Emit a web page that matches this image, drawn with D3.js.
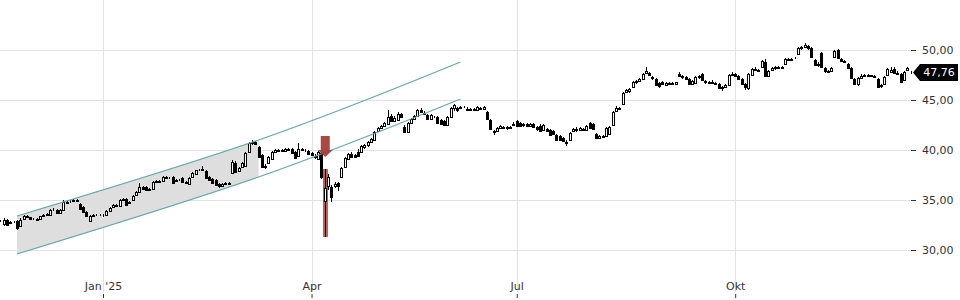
<!DOCTYPE html>
<html>
<head>
<meta charset="utf-8">
<script src="https://cdn.jsdelivr.net/npm/d3@7"></script>
<style>
  body { margin: 0; background: #fff; }
  svg { display: block; font-family: "DejaVu Sans", sans-serif; }
</style>
</head>
<body>
<svg width="960" height="300"></svg>
<script>
// DATA

  var firstDay = "2024-11-13",
    lastDay = "2025-12-15",
    holidays = ["2024-12-24", "2024-12-25", "2024-12-26", "2024-12-31", "2025-01-01",
                "2025-04-18", "2025-04-21", "2025-05-01"];

  var opens = [
    32.9, 32.6, 33.0, 32.7, 32.8, 32.9, 32.4, 33.1, 33.4, 33.3,
    33.1, 33.1, 33.1, 33.4, 33.5, 33.55, 34.0, 34.0, 33.7, 34.0,
    34.8, 34.85, 34.9, 35.0, 34.6, 34.3, 33.8, 32.9, 33.4, 33.5,
    33.5, 33.5, 33.5, 33.9, 34.3, 34.5, 34.4, 35.0, 35.1, 34.7,
    35.0, 35.5, 35.8, 36.3, 36.3, 36.0, 36.1, 36.8, 36.9, 36.85,
    37.3, 37.2, 37.3, 36.9, 37.0, 37.2, 36.8, 36.6, 37.3, 37.6,
    38.0, 38.0, 37.9, 37.3, 37.1, 37.0, 36.6, 36.4, 36.6, 36.7,
    37.7, 38.7, 37.9, 38.3, 38.4, 39.8, 40.7, 40.8, 40.3, 39.5,
    38.3, 38.7, 39.1, 39.8, 40.0, 39.9, 39.9, 40.1, 40.1, 39.8,
    39.4, 40.1, 40.0, 39.9, 39.7, 39.4, 39.1, 39.7, 34.9, 36.4,
    36.3, 36.4, 36.7, 37.3, 38.3, 39.1, 39.6, 39.5, 39.8, 39.8,
    40.3, 40.5, 40.8, 41.0, 41.9, 42.2, 42.4, 42.6, 43.4, 42.9,
    43.0, 43.6, 42.3, 41.8, 42.7, 43.1, 43.4, 44.0, 43.7, 43.5,
    43.1, 43.3, 43.3, 43.0, 42.9, 42.5, 43.3, 44.2, 44.2, 44.2,
    44.3, 44.1, 44.0, 44.1, 44.0, 44.2, 44.1, 43.8, 43.0, 41.9,
    41.9, 42.2, 42.3, 42.2, 42.3, 42.5, 42.9, 42.7, 42.5, 42.6,
    42.4, 42.6, 42.3, 42.4, 42.0, 42.1, 42.0, 41.9, 41.5, 41.4,
    41.2, 40.8, 41.0, 41.9, 42.1, 42.0, 42.1, 42.0, 42.7, 42.6,
    41.6, 41.2, 41.3, 41.4, 41.6, 42.5, 43.9, 44.1, 44.6, 45.8,
    45.9, 46.3, 46.8, 46.9, 47.1, 47.7, 47.7, 47.3, 47.1, 46.7,
    46.8, 46.5, 46.7, 46.6, 46.6, 47.6, 47.4, 47.3, 47.1, 46.6,
    46.7, 47.3, 47.6, 46.9, 46.8, 46.7, 46.7, 46.6, 46.3, 46.3,
    46.5, 47.5, 47.6, 47.4, 47.1, 46.6, 46.2, 47.5, 48.0, 48.0,
    48.3, 48.8, 47.4, 48.0, 48.2, 48.2, 48.3, 48.6, 49.0, 49.1,
    49.2, 49.6, 50.2, 50.3, 50.4, 50.2, 49.0, 48.6, 49.7, 48.2,
    47.8, 47.9, 49.3, 50.0, 49.1, 48.9, 48.6, 48.2, 47.1, 46.6,
    47.2, 47.4, 47.5, 47.4, 47.4, 47.1, 46.4, 46.6, 47.5, 47.8,
    48.1, 47.7, 47.6, 47.0, 48.0, 47.8
  ];

  var highs = [
    33.0, 33.2, 33.1, 32.9, 32.9, 33.0, 33.2, 33.5, 33.5, 33.3,
    33.2, 33.2, 33.4, 33.6, 33.7, 34.1, 34.2, 34.1, 34.1, 35.0,
    35.0, 35.0, 35.1, 35.1, 34.7, 34.4, 33.9, 33.5, 33.6, 33.6,
    33.6, 33.6, 34.0, 34.3, 34.6, 34.6, 35.1, 35.2, 35.2, 34.9,
    35.5, 35.9, 36.7, 36.4, 36.4, 36.2, 36.9, 37.0, 37.0, 37.4,
    37.4, 37.3, 37.4, 37.1, 37.1, 37.3, 36.9, 37.3, 37.8, 38.0,
    38.1, 38.4, 38.0, 37.4, 37.2, 37.1, 36.7, 36.7, 36.8, 36.8,
    39.0, 38.9, 38.3, 38.8, 39.8, 40.8, 41.0, 40.9, 40.4, 39.6,
    38.6, 39.4, 39.9, 40.1, 40.1, 40.1, 40.2, 40.2, 40.2, 39.9,
    40.7, 40.2, 40.1, 40.0, 39.8, 39.6, 39.9, 39.8, 38.1, 37.6,
    36.5, 36.8, 36.8, 38.3, 39.3, 39.7, 39.8, 39.6, 40.1, 40.5,
    40.6, 40.9, 41.2, 41.9, 42.3, 42.5, 42.8, 44.0, 43.6, 43.4,
    43.8, 43.7, 42.5, 42.8, 43.2, 43.5, 44.1, 44.2, 43.9, 43.6,
    43.6, 43.4, 43.4, 43.1, 43.0, 43.4, 44.3, 44.6, 44.3, 44.4,
    44.4, 44.3, 44.2, 44.2, 44.4, 44.3, 44.4, 43.9, 43.1, 42.0,
    42.3, 42.5, 42.4, 42.4, 42.4, 42.8, 43.0, 42.8, 42.7, 42.7,
    42.7, 42.7, 42.4, 42.6, 42.6, 42.2, 42.1, 42.0, 41.6, 41.5,
    41.3, 41.0, 41.8, 42.2, 42.3, 42.3, 42.2, 42.5, 42.8, 42.7,
    41.7, 41.5, 41.5, 42.3, 42.4, 43.9, 44.4, 44.3, 45.8, 46.1,
    46.2, 46.9, 47.0, 47.2, 47.7, 48.3, 47.8, 47.4, 47.2, 46.8,
    46.9, 46.8, 46.8, 46.8, 46.8, 47.8, 47.5, 47.4, 47.2, 47.0,
    47.4, 47.5, 47.7, 47.0, 46.9, 47.0, 46.8, 46.7, 46.4, 46.6,
    47.6, 47.8, 47.7, 47.5, 47.2, 46.7, 47.7, 48.2, 48.3, 48.1,
    49.0, 49.1, 48.0, 48.3, 48.4, 48.4, 48.4, 49.2, 49.2, 49.2,
    49.3, 50.3, 50.4, 50.7, 50.5, 50.3, 49.1, 48.8, 49.8, 48.3,
    48.0, 48.3, 50.0, 50.1, 49.2, 49.0, 48.7, 48.3, 47.2, 47.3,
    47.6, 47.6, 47.6, 47.5, 47.5, 47.2, 46.6, 47.4, 48.2, 48.3,
    48.3, 47.9, 47.7, 47.9, 48.3, 47.9
  ];

  var lows = [
    32.8, 32.4, 32.4, 32.6, 32.7, 32.0, 32.3, 33.0, 33.2, 33.0,
    33.0, 33.0, 33.0, 33.3, 33.4, 33.5, 33.9, 33.6, 33.6, 33.9,
    34.7, 34.7, 34.8, 34.8, 34.0, 33.7, 33.3, 32.8, 33.3, 33.4,
    33.4, 33.3, 33.4, 33.8, 34.2, 34.3, 34.3, 34.9, 34.4, 34.6,
    34.9, 35.4, 35.7, 36.0, 35.9, 35.9, 36.0, 36.7, 36.7, 36.8,
    37.1, 37.1, 36.6, 36.8, 36.9, 36.7, 36.6, 36.5, 37.2, 37.5,
    37.9, 37.9, 37.1, 36.9, 36.6, 36.4, 36.2, 36.3, 36.5, 36.5,
    37.6, 37.7, 37.8, 38.2, 38.3, 39.7, 40.5, 40.5, 39.2, 38.2,
    38.1, 38.6, 39.0, 39.7, 39.8, 39.8, 39.8, 39.9, 39.6, 39.1,
    39.3, 39.9, 39.8, 39.5, 39.4, 39.1, 39.0, 37.1, 31.3, 36.0,
    34.8, 36.2, 35.9, 37.2, 38.2, 39.0, 39.2, 39.2, 39.3, 39.7,
    40.1, 40.3, 40.7, 40.9, 41.8, 42.1, 42.3, 42.5, 42.8, 42.8,
    42.9, 43.2, 41.7, 41.7, 42.6, 43.0, 43.3, 43.7, 43.5, 43.0,
    43.0, 43.2, 42.6, 42.5, 42.4, 42.4, 43.2, 43.9, 43.8, 44.1,
    44.2, 43.9, 43.9, 43.9, 43.9, 44.0, 44.0, 43.0, 42.0, 41.5,
    41.8, 42.1, 42.1, 42.0, 42.1, 42.4, 42.3, 42.3, 42.3, 42.3,
    42.3, 42.2, 41.9, 41.8, 41.9, 41.8, 41.4, 41.5, 40.9, 40.9,
    40.8, 40.4, 40.9, 41.8, 41.8, 41.9, 41.9, 41.9, 42.1, 42.0,
    41.1, 41.1, 41.2, 41.3, 41.5, 42.4, 43.8, 44.0, 44.5, 45.7,
    45.7, 46.2, 46.6, 46.8, 47.0, 47.6, 47.4, 47.0, 46.4, 46.2,
    46.5, 46.4, 46.5, 46.5, 46.5, 47.3, 47.1, 47.0, 46.5, 46.5,
    46.6, 47.1, 46.9, 46.6, 46.6, 46.6, 46.5, 46.1, 45.9, 46.2,
    46.4, 47.4, 47.3, 47.0, 46.5, 46.0, 46.0, 47.4, 47.9, 47.8,
    48.2, 47.3, 47.3, 47.9, 48.0, 48.1, 48.1, 48.5, 48.9, 48.9,
    49.1, 49.5, 50.0, 50.2, 50.0, 49.2, 48.4, 48.3, 48.2, 47.7,
    47.7, 47.8, 49.2, 49.1, 48.8, 48.7, 48.1, 47.1, 46.5, 46.4,
    47.1, 47.3, 47.3, 47.3, 47.2, 46.2, 46.2, 46.5, 47.4, 47.7,
    47.6, 47.5, 46.7, 46.9, 47.9, 47.6
  ];

  var closes = [
    32.9, 33.0, 32.5, 32.8, 32.75, 32.2, 33.0, 33.4, 33.3, 33.05,
    33.1, 33.15, 33.35, 33.5, 33.6, 34.0, 34.05, 33.7, 34.0, 34.8,
    34.85, 34.9, 35.0, 34.9, 34.1, 33.8, 33.4, 33.4, 33.5, 33.45,
    33.55, 33.45, 33.9, 34.2, 34.5, 34.4, 35.0, 35.1, 34.5, 34.8,
    35.4, 35.8, 36.3, 36.1, 36.0, 36.1, 36.8, 36.9, 36.85, 37.3,
    37.2, 37.2, 36.7, 37.0, 37.05, 36.8, 36.7, 37.2, 37.7, 38.0,
    38.0, 38.1, 37.2, 37.0, 36.7, 36.5, 36.4, 36.6, 36.7, 36.6,
    38.8, 37.8, 38.2, 38.7, 39.7, 40.7, 40.8, 40.6, 39.3, 38.3,
    38.4, 39.3, 39.8, 40.0, 39.9, 40.0, 40.1, 40.0, 39.7, 39.2,
    40.1, 40.0, 39.95, 39.6, 39.5, 39.3, 39.8, 37.3, 36.2, 37.3,
    35.3, 36.6, 36.4, 38.2, 39.2, 39.6, 39.3, 39.3, 39.4, 40.4,
    40.5, 40.8, 41.1, 41.8, 42.2, 42.4, 42.7, 43.3, 42.9, 43.2,
    43.6, 43.3, 41.8, 42.7, 43.1, 43.4, 44.0, 43.8, 43.6, 43.1,
    43.5, 43.3, 42.7, 42.6, 42.5, 43.3, 44.2, 44.5, 44.0, 44.3,
    44.25, 44.0, 44.1, 44.0, 44.3, 44.1, 44.3, 43.1, 42.1, 41.8,
    42.2, 42.4, 42.2, 42.3, 42.2, 42.6, 42.4, 42.4, 42.6, 42.4,
    42.6, 42.3, 42.1, 41.9, 42.5, 41.9, 41.5, 41.6, 41.0, 41.0,
    40.9, 40.7, 41.7, 42.1, 42.0, 42.2, 42.0, 42.4, 42.2, 42.1,
    41.2, 41.4, 41.4, 42.2, 42.3, 43.8, 44.2, 44.2, 45.7, 46.0,
    46.1, 46.8, 46.9, 47.1, 47.6, 47.9, 47.5, 47.2, 46.5, 46.4,
    46.6, 46.7, 46.6, 46.7, 46.8, 47.4, 47.3, 47.1, 46.6, 46.9,
    47.3, 47.4, 47.0, 46.8, 46.7, 46.8, 46.6, 46.2, 46.2, 46.5,
    47.5, 47.6, 47.4, 47.1, 46.6, 46.3, 47.6, 48.1, 48.1, 47.9,
    48.9, 47.4, 47.9, 48.2, 48.3, 48.3, 48.2, 49.1, 49.1, 49.0,
    49.25, 50.2, 50.3, 50.5, 50.2, 49.3, 48.5, 48.5, 48.3, 47.9,
    47.9, 48.2, 49.9, 49.2, 48.9, 48.8, 48.2, 47.2, 46.6, 47.2,
    47.4, 47.5, 47.4, 47.45, 47.3, 46.3, 46.5, 47.3, 48.1, 48.0,
    47.7, 47.6, 46.8, 47.8, 48.2, 47.76
  ];

  var yTicks = [30, 35, 40, 45, 50],
    xTickDates = ["2025-01-02", "2025-04-01", "2025-07-01", "2025-10-01"],
    xTickLabels = ["Jan '25", "Apr", "Jul", "Okt"],
    lastPrice = 47.76;

  // trend channel, read at three points
  var channelDates = ["2024-11-20", "2025-03-10", "2025-06-06"],
    channelUpper = [33.4, 41.0, 48.8],
    channelLower = [29.6, 37.3, 45.1],
    shadeEnd = "2025-03-10";

  // red signal on the crash day
  var signalDate = "2025-04-07",
    signalBar = [38.1, 31.3],
    signalArrow = [41.4, 39.3];


// SETUP

  var svg = d3.select("svg"),
    plotLeft = 0.4,
    plotRight = 910.6;

  var holidaySet = new Set(holidays);
  var days = [];
  for (var d = new Date(firstDay + "T00:00:00Z"); d <= new Date(lastDay + "T00:00:00Z"); d.setUTCDate(d.getUTCDate() + 1)) {
    var wd = d.getUTCDay(), iso = d.toISOString().slice(0, 10);
    if (wd > 0 && wd < 6 && !holidaySet.has(iso)) days.push(iso);
  }

  var candles = days.map(function (day, i) {
    return { day: day, i: i, o: opens[i], h: highs[i], l: lows[i], c: closes[i] };
  });

  function dayIndex(day) { return days.indexOf(day); }

  var x = d3.scaleLinear().domain([0, days.length - 1]).range([plotLeft, plotRight]),
    y = d3.scaleLinear().domain([30, 50]).range([250, 50]);

  var de = d3.formatLocale({ decimal: ",", thousands: ".", grouping: [3], currency: ["", " €"] }),
    fmt = de.format(".2f");

  function px(v) { return Math.round(v) + 0.5; }


// GRID

  var grid = svg.append("g").attr("class", "grid");

  grid.selectAll(".hline")
    .data(yTicks)
    .enter().append("line")
      .attr("class", "hline")
      .attr("x1", 0).attr("x2", 910)
      .attr("y1", function (d) { return px(y(d)); })
      .attr("y2", function (d) { return px(y(d)); })
      .attr("stroke", "#e1e1e1");

  grid.selectAll(".vline")
    .data(xTickDates)
    .enter().append("line")
      .attr("class", "vline")
      .attr("x1", function (d) { return px(x(dayIndex(d))); })
      .attr("x2", function (d) { return px(x(dayIndex(d))); })
      .attr("y1", 0).attr("y2", 292)
      .attr("stroke", "#e1e1e1");


// CHANNEL SHADE

  var channel = channelDates.map(function (day, j) {
    return { i: dayIndex(day), upper: channelUpper[j], lower: channelLower[j] };
  });

  svg.append("clipPath").attr("id", "shadeClip")
    .append("rect")
      .attr("x", x(channel[0].i))
      .attr("y", 0)
      .attr("width", x(dayIndex(shadeEnd)) - x(channel[0].i))
      .attr("height", 300);

  var area = d3.area()
    .curve(d3.curveNatural)
    .x(function (d) { return x(d.i); })
    .y0(function (d) { return y(d.lower); })
    .y1(function (d) { return y(d.upper); });

  svg.append("path")
    .datum(channel)
    .attr("clip-path", "url(#shadeClip)")
    .attr("d", area)
    .attr("fill", "#dedede");


// SIGNAL BAR (behind the candle)

  var sx = x(dayIndex(signalDate));

  svg.append("rect")
    .attr("x", Math.round(sx) - 2)
    .attr("y", y(signalBar[0]))
    .attr("width", 5)
    .attr("height", y(signalBar[1]) - y(signalBar[0]))
    .attr("fill", "#b0473f")
    .attr("opacity", 0.85);


// CANDLES

  var cg = svg.append("g").attr("class", "candles");

  var candle = cg.selectAll(".candle")
    .data(candles)
    .enter().append("g")
      .attr("class", "candle");

  candle.append("line")
    .attr("x1", function (d) { return Math.round(x(d.i) - 1) + 1.5; })
    .attr("x2", function (d) { return Math.round(x(d.i) - 1) + 1.5; })
    .attr("y1", function (d) { return y(d.h); })
    .attr("y2", function (d) { return y(d.l); })
    .attr("stroke", "#000");

  candle.append("rect")
    .attr("x", function (d) { return Math.round(x(d.i) - 1) + 0.5; })
    .attr("y", function (d) { return Math.round(y(Math.max(d.o, d.c))) + 0.5; })
    .attr("width", 2)
    .attr("height", function (d) { return Math.max(0, Math.round(Math.abs(y(d.o) - y(d.c)))); })
    .attr("fill", function (d) { return d.c >= d.o ? "#fff" : "#000"; })
    .attr("stroke", "#000");


// CHANNEL LINES

  var upperLine = d3.line().curve(d3.curveNatural)
    .x(function (d) { return x(d.i); })
    .y(function (d) { return y(d.upper); });

  var lowerLine = d3.line().curve(d3.curveNatural)
    .x(function (d) { return x(d.i); })
    .y(function (d) { return y(d.lower); });

  svg.append("path").datum(channel).attr("d", upperLine)
    .attr("fill", "none").attr("stroke", "#66a7ae").attr("stroke-width", 1.2);
  svg.append("path").datum(channel).attr("d", lowerLine)
    .attr("fill", "none").attr("stroke", "#66a7ae").attr("stroke-width", 1.2);


// SIGNAL ARROW

  var aTop = y(signalArrow[0]), aTip = y(signalArrow[1]), aNeck = aTip - 7;
  svg.append("path")
    .attr("d", "M" + (sx - 4) + "," + aTop + "H" + (sx + 5) + "V" + aNeck +
               "H" + (sx + 8) + "L" + (sx + 0.5) + "," + aTip + "L" + (sx - 7) + "," + aNeck +
               "H" + (sx - 4) + "Z")
    .attr("fill", "#a23a33")
    .attr("opacity", 0.92);


// AXES

  svg.append("g")
    .attr("class", "axis axis--y")
    .attr("transform", "translate(911,0)")
    .call(d3.axisRight(y).tickValues(yTicks).tickSize(5).tickPadding(6).tickFormat(fmt))
    .call(function (g) { g.select(".domain").remove(); })
    .call(function (g) {
      g.selectAll(".tick line").attr("stroke", "#333");
      g.selectAll("text").attr("fill", "#333").style("font-size", "11px")
        .style("font-family", "'DejaVu Sans', sans-serif");
    });

  svg.append("g")
    .attr("class", "axis axis--x")
    .attr("transform", "translate(0,298)")
    .call(d3.axisTop(x)
      .tickValues(xTickDates.map(dayIndex))
      .tickSize(4).tickPadding(4)
      .tickFormat(function (d, i) { return xTickLabels[i]; }))
    .call(function (g) { g.select(".domain").remove(); })
    .call(function (g) {
      g.selectAll(".tick line").attr("stroke", "#333");
      g.selectAll("text").attr("fill", "#333").style("font-size", "11px")
        .style("font-family", "'DejaVu Sans', sans-serif");
    });


// LAST PRICE LABEL

  var ly = y(lastPrice);
  svg.append("path")
    .attr("d", "M913," + ly + "L920," + (ly - 8.5) + "H958V" + (ly + 8.5) + "H920Z")
    .attr("fill", "#000");

  svg.append("text")
    .attr("x", 939)
    .attr("y", ly)
    .attr("dy", "0.35em")
    .attr("text-anchor", "middle")
    .attr("fill", "#fff")
    .style("font-size", "11px")
    .text(fmt(lastPrice));

</script>
</body>
</html>
